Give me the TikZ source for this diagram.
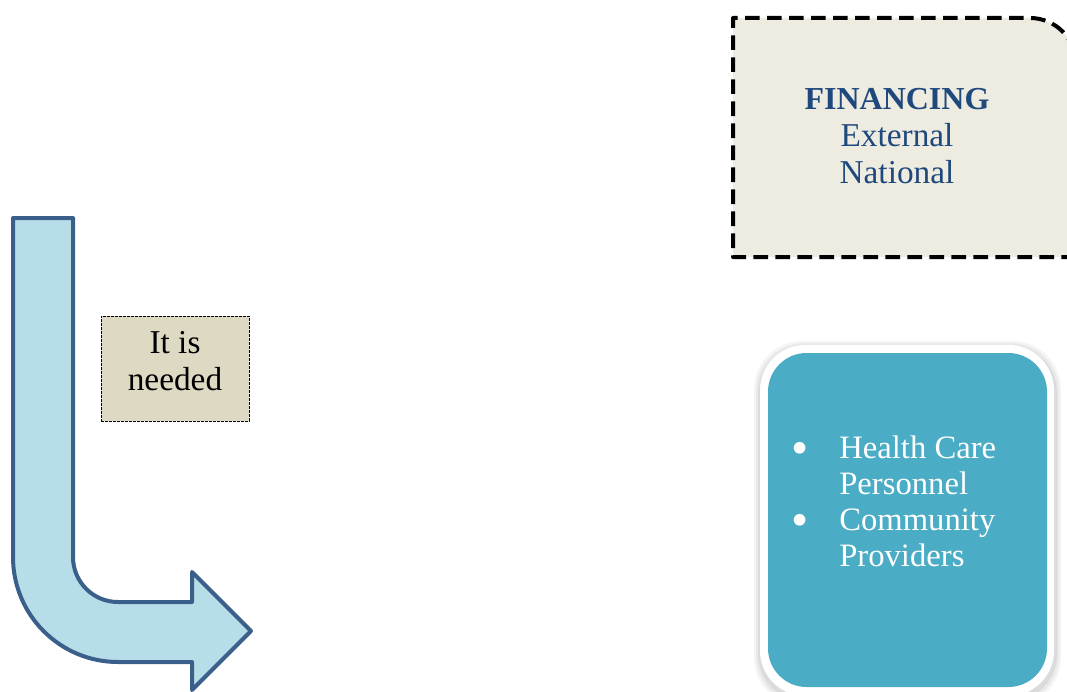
\documentclass[tikz,border=0pt]{standalone}
\usepackage{fontspec}
\setmainfont{Liberation Serif}
\definecolor{arrowfill}{HTML}{B7DDE8}
\definecolor{arrowline}{HTML}{3A5F8B}
\definecolor{needfill}{HTML}{DDD9C3}
\definecolor{finfill}{HTML}{EEECE1}
\definecolor{fintext}{HTML}{1F497D}
\definecolor{boxblue}{HTML}{4BACC6}
\newcommand{\bigbul}{\raisebox{-0.45ex}{\scalebox{1.5}{\textbullet}}}
\tikzset{
  arrowshape/.style={draw=arrowline, fill=arrowfill, line width=3pt, line join=round},
  needbox/.style={draw=black, fill=needfill, line width=0.6pt, dash pattern=on 2pt off 1pt,
    minimum width=111pt, minimum height=78.75pt, inner sep=0pt},
  needtxt/.style={align=center, inner sep=0pt, font=\fontsize{25}{27.5}\selectfont},
  finbox/.style={draw=black, fill=finfill, line width=3pt, dash pattern=on 11pt off 5.5pt, line join=round},
  fintxt/.style={text=fintext, align=center, inner sep=0pt, font=\fontsize{25}{27.5}\selectfont},
  bluetxt/.style={text=white, inner sep=0pt, font=\fontsize{24.5}{27}\selectfont},
}
\begin{document}
\begin{tikzpicture}[x=0.75pt,y=-0.75pt]
\useasboundingbox (0,0) rectangle (1067,692);
\clip (0,0) rectangle (1067,692);
% bent arrow
\draw[arrowshape] (13,218) -- (73,218) -- (73,557)
  .. controls (73,581.9) and (93.1,602) .. (118,602) -- (192,602) -- (192,572)
  -- (251,631) -- (192,690) -- (192,662) -- (118,662)
  .. controls (60,662) and (13,615) .. (13,557) -- cycle;
% It is needed
\node[needbox] (need) at (175,368.5) {};
\node[needtxt, anchor=base] (needlbl) at (175,390) {It is\\needed};
% financing box
\draw[finbox] (1076,257) -- (733,257) -- (733,18) -- (1030,18)
  .. controls (1055.4,18) and (1076,38.6) .. (1076,64) -- cycle;
\node[fintxt, anchor=base] (fin) at (897,183) {{\fontsize{24}{27.5}\selectfont\textbf{FINANCING}}\\External\\National};
% blue box with shadow
\foreach \g/\o in {6/0.04,4/0.05,2/0.06} {
  \fill[black, opacity=\o, rounded corners=36pt] (760-\g,345-\g+2) rectangle (1054+\g+1,700+\g);
}
\fill[white, rounded corners=34pt] (760,345) rectangle (1054,696);
\fill[boxblue, rounded corners=29pt] (768,353) rectangle (1047,687);
\node[bluetxt, anchor=base west] (list) at (791,458)
  {\begin{tabular}[t]{@{}p{36pt}@{}l@{}}\bigbul & Health Care\\ & Personnel\\ \bigbul & Community\\ & Providers\end{tabular}};
\end{tikzpicture}
\end{document}
